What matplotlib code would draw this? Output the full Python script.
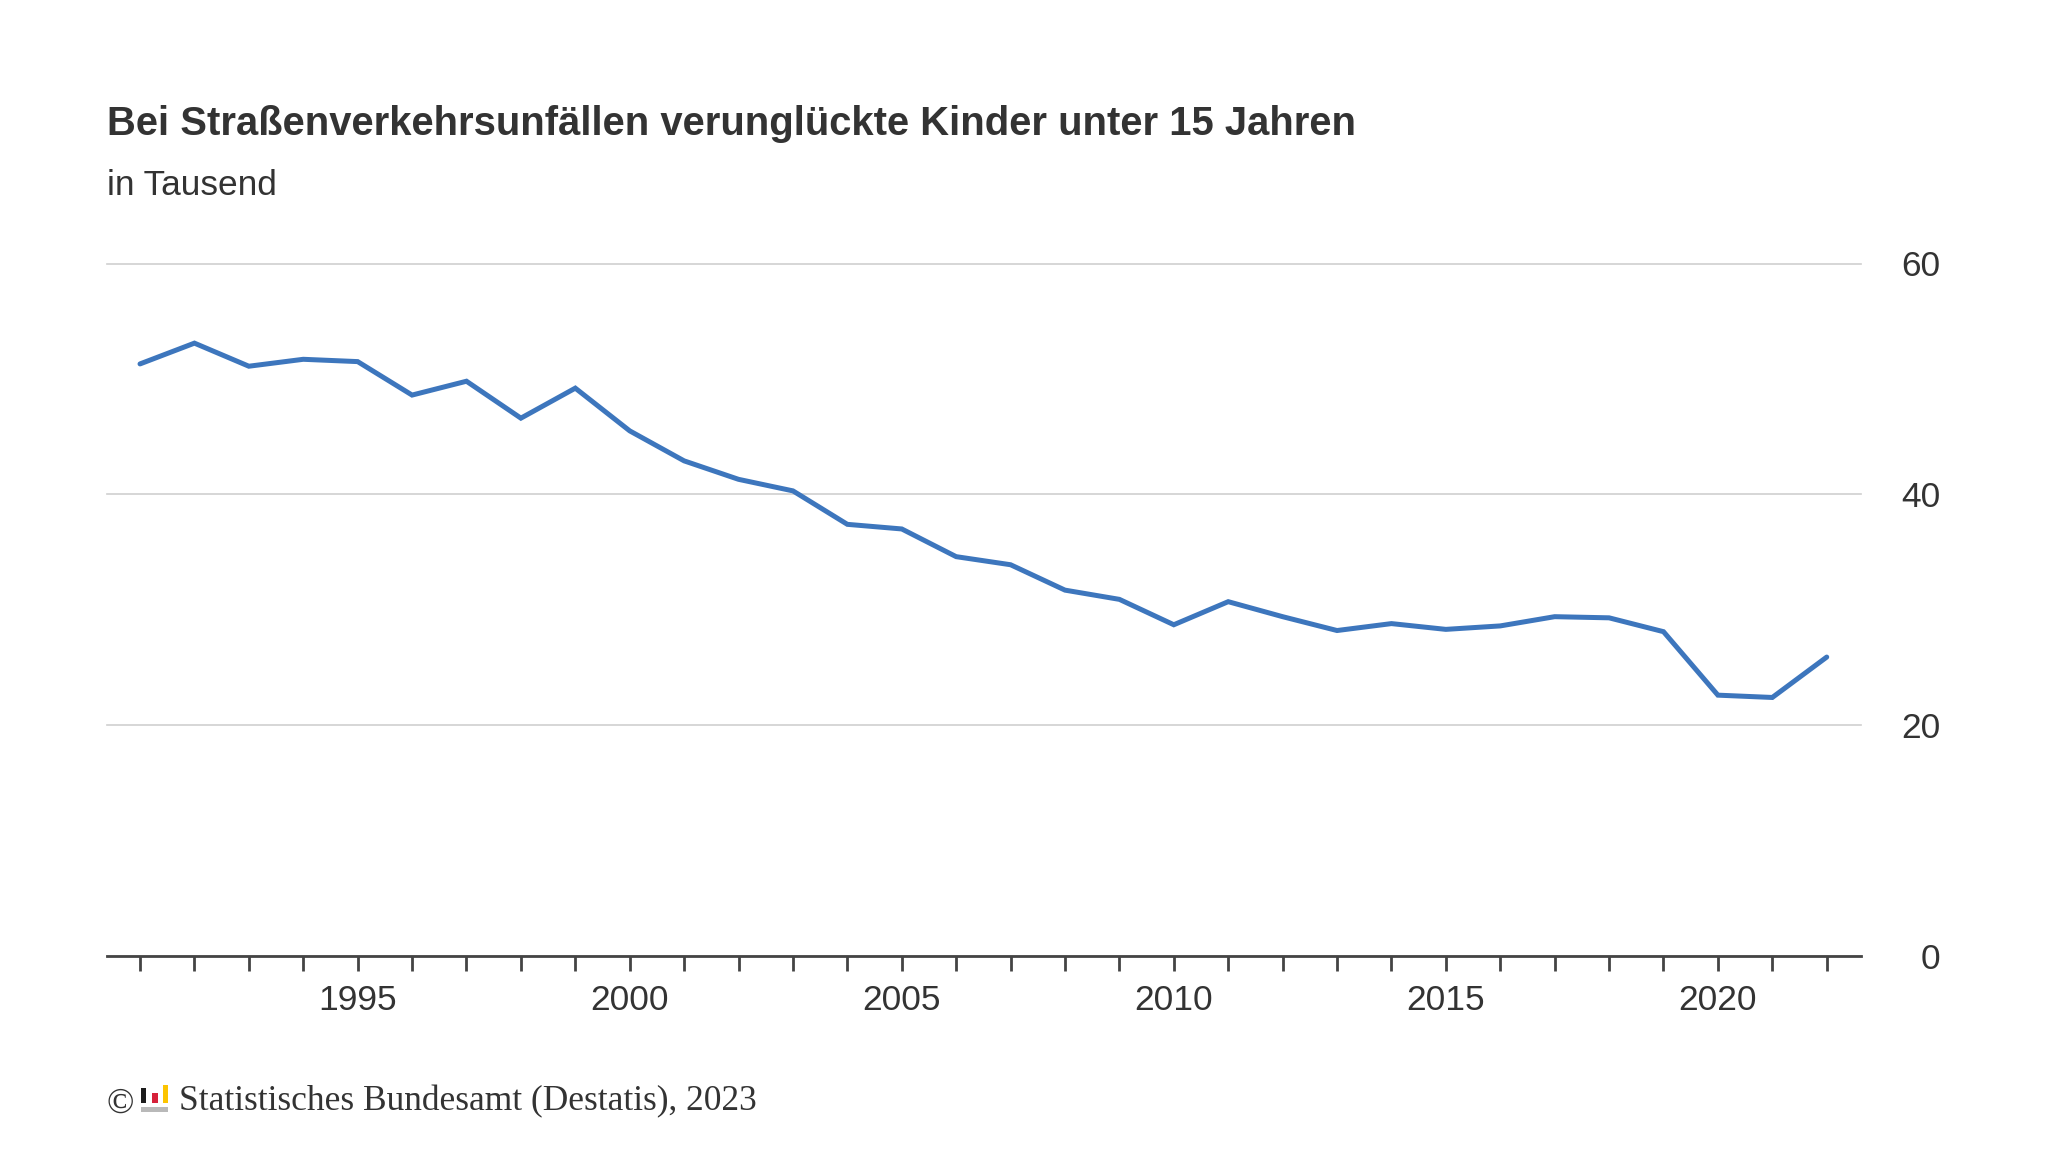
import matplotlib
matplotlib.use('Agg')
import matplotlib.pyplot as plt
from matplotlib.patches import Rectangle

years = list(range(1991, 2023))
kinder = [51.3, 53.1, 51.1, 51.7, 51.5, 48.6, 49.8, 46.6, 49.2, 45.5, 42.9, 41.3, 40.3, 37.4, 37.0, 34.6,
          33.9, 31.7, 30.9, 28.7, 30.7, 29.4, 28.2, 28.8, 28.3, 28.6, 29.4, 29.3, 28.1, 22.6, 22.4, 25.9]
x_labels = [1995, 2000, 2005, 2010, 2015, 2020]
y_labels = [0, 20, 40, 60]

W, H = 2048, 1152
plt.rcParams['font.family'] = 'Liberation Sans'

fig = plt.figure(figsize=(W / 100, H / 100), dpi=100)
ax = fig.add_axes([107 / W, 1 - 956 / H, (1861 - 107) / W, (956 - 263.5) / H])

ax.plot(years, kinder, color='#3d76bd', lw=3.6, solid_capstyle='round', solid_joinstyle='miter')

ax.set_xlim(1990.393, 2022.63)
ax.set_ylim(0, 60)

# gridlines
ax.set_yticks(y_labels)
ax.yaxis.tick_right()
ax.grid(axis='y', color='#cfcfcf', lw=1.2, clip_on=False)
ax.set_axisbelow(True)
ax.tick_params(axis='y', length=0, pad=57, labelsize=25.5, labelcolor='#333333')
for lab in ax.get_yticklabels():
    lab.set_horizontalalignment('right')

# x axis
ax.set_xticks(years)
ax.set_xticklabels([str(y) if y in x_labels else '' for y in years])
ax.tick_params(axis='x', length=10.5, width=2, color='#444444', pad=10, labelsize=25.5, labelcolor='#333333')

for s in ['top', 'left', 'right']:
    ax.spines[s].set_visible(False)
ax.spines['bottom'].set_color('#444444')
ax.spines['bottom'].set_linewidth(2)

# title
fig.text(107 / W, 1 - 135 / H, 'Bei Straßenverkehrsunfällen verunglückte Kinder unter 15 Jahren',
         fontsize=28.8, fontweight='bold', color='#333333', ha='left', va='baseline')
fig.text(107 / W, 1 - 195 / H, 'in Tausend', fontsize=25.4, color='#333333', ha='left', va='baseline')

# source
fig.text(107 / W, 1 - 1113 / H, '©', fontsize=26, family='Liberation Serif', color='#333333', ha='left', va='baseline')
fig.text(179 / W, 1 - 1110 / H, 'Statistisches Bundesamt (Destatis), 2023', fontsize=25.45,
         family='Liberation Serif', color='#333333', ha='left', va='baseline')

# logo
for x0, y0, x1, y1, c in [(141, 1088, 146, 1103, '#1c1c1c'), (152, 1093, 158, 1103, '#d6213a'),
                          (163, 1085, 168, 1103, '#fcc400'), (141, 1107, 168, 1112, '#b9b9b9')]:
    fig.add_artist(Rectangle((x0 / W, 1 - y1 / H), (x1 - x0) / W, (y1 - y0) / H,
                             transform=fig.transFigure, color=c, lw=0))

fig.savefig('out.png', dpi=100, facecolor='white')
